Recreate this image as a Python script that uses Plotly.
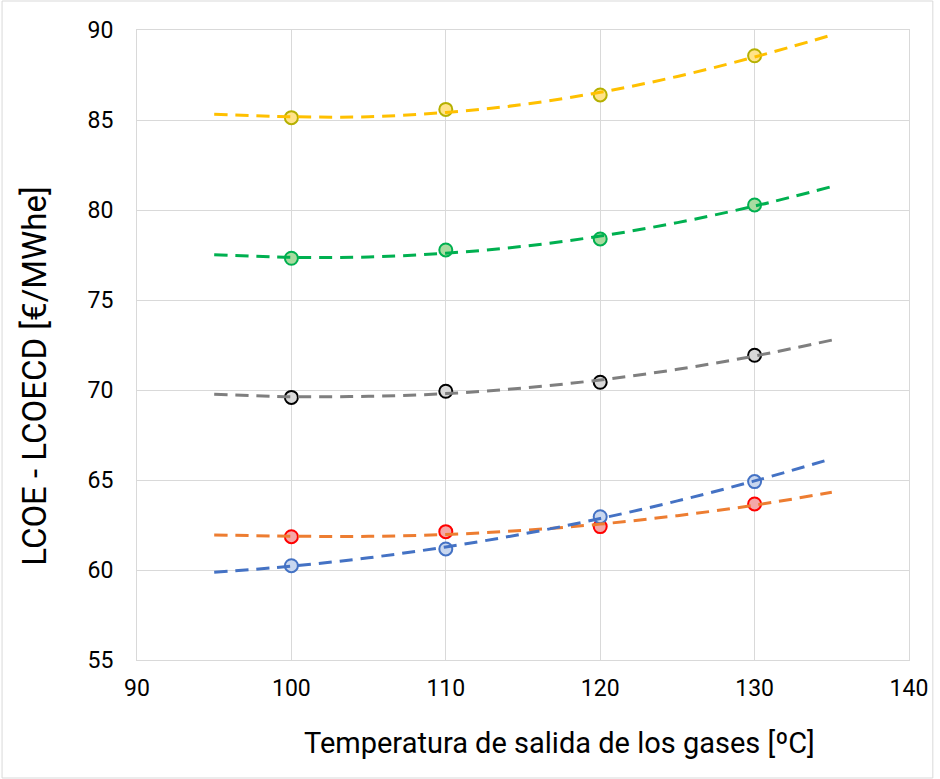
import plotly.graph_objects as go

# Measured points
temps = [100, 110, 120, 130]
yellow_pts = [85.13, 85.59, 86.39, 88.57]
green_pts = [77.32, 77.78, 78.39, 80.28]
grey_pts = [69.59, 69.93, 70.43, 71.93]
red_pts = [61.85, 62.13, 62.41, 63.67]
blue_pts = [60.24, 61.17, 62.96, 64.91]

# Trend lines
trend_x = [95, 100, 105, 110, 115, 120, 125, 130, 135]
yellow_trend = [85.32, 85.18, 85.18, 85.42, 85.86, 86.54, 87.42, 88.5, 89.72]
green_trend = [77.52, 77.37, 77.39, 77.6, 77.98, 78.55, 79.3, 80.22, 81.3]
grey_trend = [69.76, 69.63, 69.65, 69.8, 70.11, 70.56, 71.15, 71.89, 72.77]
orange_trend = [61.95, 61.88, 61.87, 61.97, 62.2, 62.55, 63.02, 63.6, 64.32]
blue_trend = [59.88, 60.21, 60.68, 61.28, 62.0, 62.86, 63.84, 64.95, 66.18]

x_title = "Temperatura de salida de los gases [ºC]"
y_title = "LCOE - LCOECD [€/MWhe]"

fig = go.Figure()

series = [
    (yellow_pts, yellow_trend, "#FFE38A", "#B5B000", "#FFC000"),
    (green_pts, green_trend, "#A9DBA0", "#00B050", "#00B050"),
    (grey_pts, grey_trend, "#D9D9D9", "#000000", "#7F7F7F"),
    (red_pts, orange_trend, "#F4A7A7", "#FF0000", "#ED7D31"),
    (blue_pts, blue_trend, "#C9D7EF", "#4472C4", "#4472C4"),
]

for pts, trend, fill, edge, lcol in series:
    fig.add_trace(go.Scatter(
        x=temps, y=pts, mode="markers",
        marker=dict(size=13, color=fill, line=dict(color=edge, width=2)),
        showlegend=False, hoverinfo="skip",
    ))
for pts, trend, fill, edge, lcol in series:
    fig.add_trace(go.Scatter(
        x=trend_x, y=trend, mode="lines",
        line=dict(color=lcol, width=3, dash="13px,8px", shape="spline"),
        showlegend=False, hoverinfo="skip",
    ))

L, R, T, B = 137, 25, 30, 119
W, H = 940, 779
pw, ph = W - L - R, H - T - B

def px_x(p):
    return (p - L) / pw

def px_y(p):
    return (H - B - p) / ph

fig.update_layout(
    width=W, height=H,
    margin=dict(l=L, r=R, t=T, b=B),
    paper_bgcolor="white", plot_bgcolor="white",
    font=dict(family="Roboto", color="#000000"),
    xaxis=dict(
        range=[90, 140], dtick=10, tick0=90,
        showgrid=True, gridcolor="#D9D9D9", gridwidth=1,
        showline=True, linecolor="#D9D9D9", linewidth=1, mirror=True,
        zeroline=False, ticks="", tickfont=dict(size=23, family="Roboto"),
        ticklabelstandoff=7,
    ),
    yaxis=dict(
        range=[55, 90], dtick=5, tick0=55,
        showgrid=True, gridcolor="#D9D9D9", gridwidth=1,
        showline=True, linecolor="#D9D9D9", linewidth=1, mirror=True,
        zeroline=False, ticks="", tickfont=dict(size=23, family="Roboto"),
        ticklabelstandoff=18,
    ),
    annotations=[
        dict(text=x_title, xref="paper", yref="paper",
             x=px_x(563), y=px_y(743), xanchor="center", yanchor="middle",
             showarrow=False, font=dict(size=29, family="Roboto")),
        dict(text=y_title, xref="paper", yref="paper",
             x=px_x(33), y=px_y(376), xanchor="center", yanchor="middle",
             textangle=-90, showarrow=False, font=dict(size=33, family="Roboto")),
    ],
    shapes=[dict(
        type="rect", xref="paper", yref="paper",
        x0=px_x(1), x1=px_x(W - 1),
        y0=px_y(H - 1), y1=px_y(1),
        line=dict(color="#D9D9D9", width=1), fillcolor="rgba(0,0,0,0)",
        layer="below",
    )],
)

fig.write_html(
    "out.html",
    config={"displayModeBar": False, "responsive": False},
    post_script=(
        "document.body.style.margin='0px';"
        "document.body.style.overflow='hidden';"
        "Plotly.relayout('{plot_id}', {width: 940, height: 779});"
    ),
)
